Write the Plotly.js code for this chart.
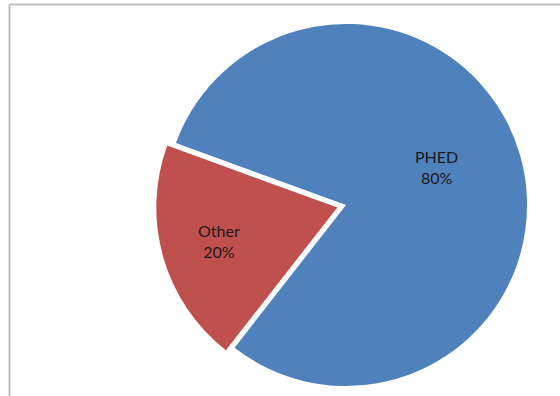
<!DOCTYPE html>
<html>
<head>
<meta charset="utf-8">
<script src="https://cdn.plot.ly/plotly-3.0.1.min.js"></script>
<style>
html,body{margin:0;padding:0;background:#fff;}
#chart{width:560px;height:396px;}
</style>
</head>
<body>
<div id="chart"></div>
<script>
var categories = ["PHED", "Other"];
var values = [80, 20];
var pulls = [0, 0.05];
var colors = ["#4F81BD", "#C0504D"];

// ---- style / geometry settings ----
var W = 560, H = 396;
var M = {l: 0, r: 0, t: 14, b: 0};
var domX = [0.2785, 0.9573], domY = [0, 1];
var rotation = -70;
var labelRadius = [0.54, 0.68];   // label distance as fraction of radius
var labelAngleShift = [-7, 0];    // degrees, clockwise
var labelFont = {family: "Lato, 'Open Sans', sans-serif", size: 16, color: "#1a1a1a"};

var trace = {
  type: "pie",
  labels: categories,
  values: values,
  pull: pulls,
  sort: false,
  direction: "clockwise",
  rotation: rotation,
  marker: {colors: colors, line: {width: 0}},
  textinfo: "none",
  hoverinfo: "label+percent",
  domain: {x: domX, y: domY}
};

// replicate pie geometry to place labels like the original
var gw = W - M.l - M.r, gh = H - M.t - M.b;
var boxW = gw * (domX[1] - domX[0]), boxH = gh * (domY[1] - domY[0]);
var maxPull = Math.max.apply(null, pulls);
var r = Math.min(boxW, boxH) / (2 + 2 * maxPull);
var cx = M.l + gw * (domX[0] + domX[1]) / 2;
var cy = M.t + gh * (1 - domY[0]) - boxH / 2;
var total = values.reduce(function (a, b) { return a + b; }, 0);

var annotations = [];
var cum = 0;
for (var i = 0; i < values.length; i++) {
  var mid = (rotation + (cum + values[i] / 2) / total * 360) * Math.PI / 180;
  cum += values[i];
  var pcx = cx + pulls[i] * r * Math.sin(mid);
  var pcy = cy - pulls[i] * r * Math.cos(mid);
  var a = mid + labelAngleShift[i] * Math.PI / 180;
  var px = pcx + labelRadius[i] * r * Math.sin(a);
  var py = pcy - labelRadius[i] * r * Math.cos(a);
  annotations.push({
    xref: "paper", yref: "paper",
    x: (px - M.l) / gw, y: 1 - (py - M.t) / gh,
    xanchor: "center", yanchor: "middle",
    text: categories[i] + "<br>" + Math.round(values[i] / total * 100) + "%",
    showarrow: false,
    font: labelFont,
    align: "center"
  });
}

// frame lines (top and left edge of the chart area)
var frameX = 9.5 / gw, frameTop = 1 - (4.5 - M.t) / gh;

var layout = {
  width: W,
  height: H,
  margin: {l: M.l, r: M.r, t: M.t, b: M.b, pad: 0},
  paper_bgcolor: "#ffffff",
  showlegend: false,
  annotations: annotations,
  shapes: [
    {type: "line", xref: "paper", yref: "paper", x0: frameX, x1: 1.01, y0: frameTop, y1: frameTop,
     line: {color: "#bdbdbd", width: 2}},
    {type: "line", xref: "paper", yref: "paper", x0: frameX, x1: frameX, y0: frameTop, y1: -0.01,
     line: {color: "#bdbdbd", width: 2}}
  ]
};

Plotly.newPlot("chart", [trace], layout, {displayModeBar: false, staticPlot: true});
</script>
</body>
</html>
